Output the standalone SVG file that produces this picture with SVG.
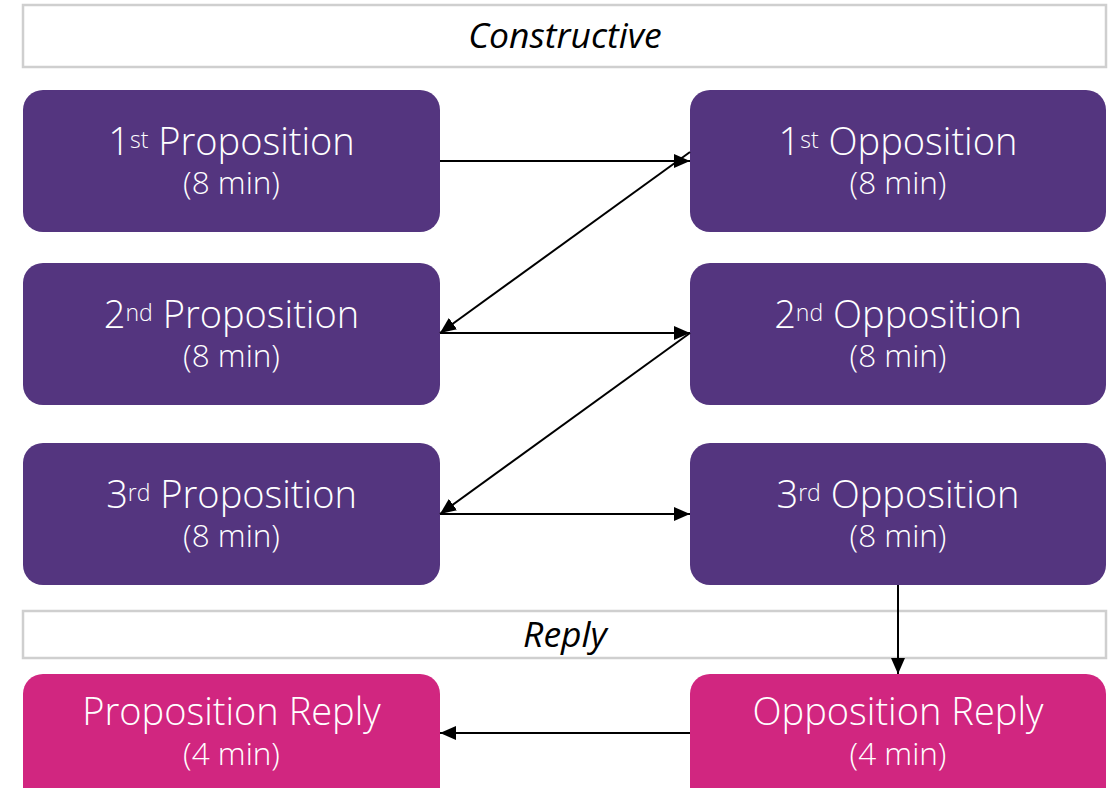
<svg xmlns="http://www.w3.org/2000/svg" width="1117" height="788" viewBox="0 0 1117 788">
<style>
.banner{fill:#fff;stroke:#cfcfcf;stroke-width:2.5}
.btxt{font-family:"Open Sans",sans-serif;font-style:italic;font-size:35.5px;fill:#000;text-anchor:middle}
.purple{fill:#54357f}
.pink{fill:#d12680}
.t{font-family:"Open Sans",sans-serif;font-weight:300;font-size:38px;fill:#fff;text-anchor:middle}
.s{font-family:"Open Sans",sans-serif;font-weight:300;font-size:31.5px;fill:#fff;text-anchor:middle}
.sup{font-size:23px}
.c{stroke:#000;stroke-width:2;fill:none;marker-end:url(#ah)}
</style>
<defs>
<marker id="ah" viewBox="0 0 16 14" refX="16" refY="7" markerWidth="16" markerHeight="14" markerUnits="userSpaceOnUse" orient="auto">
<path d="M0,0 L16,7 L0,14 Z" fill="#000"/>
</marker>
</defs>
<rect width="1117" height="788" fill="#fff"/>
<g id="constructive">
<rect class="banner" x="23" y="5" width="1083" height="62"/>
<text class="btxt" x="565" y="48">Constructive</text>
</g>
<g id="reply">
<rect class="banner" x="23" y="611" width="1083" height="47"/>
<text class="btxt" x="565" y="647">Reply</text>
</g>
<g id="prop1">
<rect class="purple" x="23" y="90" width="417" height="142" rx="20"/>
<text class="t" x="231.5" y="155">1<tspan class="sup" dy="-7">st</tspan><tspan dy="7"> Proposition</tspan></text>
<text class="s" x="231.5" y="194">(8 min)</text>
</g>
<g id="opp1">
<rect class="purple" x="690" y="90" width="416" height="142" rx="20"/>
<text class="t" x="898" y="155">1<tspan class="sup" dy="-7">st</tspan><tspan dy="7"> Opposition</tspan></text>
<text class="s" x="898" y="194">(8 min)</text>
</g>
<g id="prop2">
<rect class="purple" x="23" y="263" width="417" height="142" rx="20"/>
<text class="t" x="231.5" y="328">2<tspan class="sup" dy="-7">nd</tspan><tspan dy="7"> Proposition</tspan></text>
<text class="s" x="231.5" y="367">(8 min)</text>
</g>
<g id="opp2">
<rect class="purple" x="690" y="263" width="416" height="142" rx="20"/>
<text class="t" x="898" y="328">2<tspan class="sup" dy="-7">nd</tspan><tspan dy="7"> Opposition</tspan></text>
<text class="s" x="898" y="367">(8 min)</text>
</g>
<g id="prop3">
<rect class="purple" x="23" y="443" width="417" height="142" rx="20"/>
<text class="t" x="231.5" y="508">3<tspan class="sup" dy="-7">rd</tspan><tspan dy="7"> Proposition</tspan></text>
<text class="s" x="231.5" y="547">(8 min)</text>
</g>
<g id="opp3">
<rect class="purple" x="690" y="443" width="416" height="142" rx="20"/>
<text class="t" x="898" y="508">3<tspan class="sup" dy="-7">rd</tspan><tspan dy="7"> Opposition</tspan></text>
<text class="s" x="898" y="547">(8 min)</text>
</g>
<g id="propReply">
<rect class="pink" x="23" y="674" width="417" height="142" rx="20"/>
<text class="t" x="231.5" y="725">Proposition Reply</text>
<text class="s" x="231.5" y="765">(4 min)</text>
</g>
<g id="oppReply">
<rect class="pink" x="690" y="674" width="416" height="142" rx="20"/>
<text class="t" x="898" y="725">Opposition Reply</text>
<text class="s" x="898" y="765">(4 min)</text>
</g>
<g id="connectors">
<line class="c" x1="440" y1="161" x2="690" y2="161"/>
<line class="c" x1="690" y1="152" x2="440" y2="333"/>
<line class="c" x1="440" y1="333" x2="690" y2="333"/>
<line class="c" x1="690" y1="333" x2="440" y2="514"/>
<line class="c" x1="440" y1="514" x2="690" y2="514"/>
<line class="c" x1="898" y1="585" x2="898" y2="674"/>
<line class="c" x1="690" y1="733" x2="440" y2="733"/>
</g>
</svg>
